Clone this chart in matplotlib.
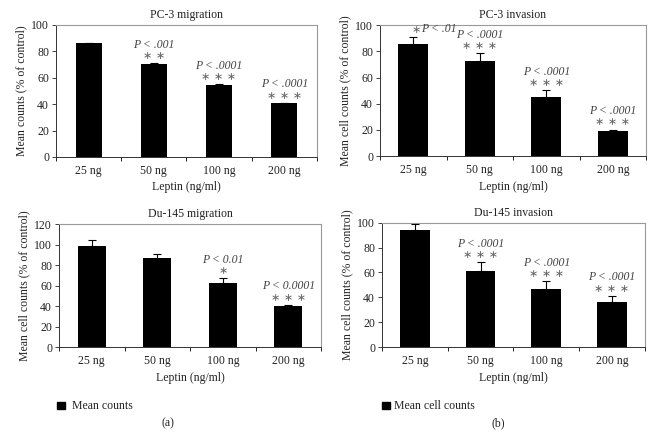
import numpy as np
import matplotlib
matplotlib.use("Agg")
import matplotlib.pyplot as plt
from matplotlib.patches import Rectangle

plt.rcParams['font.family'] = ['Liberation Serif', 'DejaVu Serif']

# data
doses = ['25 ng', '50 ng', '100 ng', '200 ng']

pc3_mig = [86, 70, 54.5, 40.5]
pc3_mig_err = [0.6, 1.0, 0.5, 0.5]
pc3_mig_p = [None, 'P < .001', 'P < .0001', 'P < .0001']
pc3_mig_star = [None, '∗ ∗', '∗ ∗ ∗', '∗ ∗ ∗']

pc3_inv = [86, 72.7, 45.5, 18.8]
pc3_inv_err = [5.0, 5.8, 4.8, 1.5]
pc3_inv_p = [None, 'P < .0001', 'P < .0001', 'P < .0001']
pc3_inv_star = [None, '∗ ∗ ∗', '∗ ∗ ∗', '∗ ∗ ∗']

du_mig = [98.8, 86.5, 63, 40.2]
du_mig_err = [5.3, 4.0, 4.3, 1.0]
du_mig_p = [None, None, 'P < 0.01', 'P < 0.0001']
du_mig_star = [None, None, '∗', '∗ ∗ ∗']

du_inv = [94.2, 61, 46.5, 36]
du_inv_err = [4.7, 7.1, 6.4, 5.1]
du_inv_p = [None, 'P < .0001', 'P < .0001', 'P < .0001']
du_inv_star = [None, '∗ ∗ ∗', '∗ ∗ ∗', '∗ ∗ ∗']

fig = plt.figure(figsize=(6.62, 4.36), dpi=100)
fs = 8.5


def panel(rect, vals, errs, ptxt, stars, title, ylabel, ymax, width):
    ax = fig.add_axes(rect)
    x = np.arange(len(vals))
    ax.bar(x, vals, width=width, color='black', zorder=2)
    ax.errorbar(x, vals, yerr=[np.zeros(len(errs)), errs], fmt='none',
                ecolor='black', elinewidth=0.8, capsize=3, capthick=0.8, zorder=3)
    ax.set_xlim(-0.5, len(vals) - 0.5)
    ax.set_ylim(0, ymax)
    ax.set_yticks(np.arange(0, ymax + 1, 20))
    ax.set_xticks(np.arange(-0.5, len(vals)))
    ax.set_xticklabels([])
    ax.set_xticks(x, minor=True)
    ax.set_xticklabels(doses, minor=True)
    ax.tick_params(axis='x', which='minor', length=0, pad=6, labelsize=fs, colors='#222222')
    ax.tick_params(axis='x', which='major', length=3, width=0.6, direction='out')
    ax.tick_params(axis='y', length=3, width=0.6, labelsize=fs, colors='#222222', pad=2)
    for s in ['left', 'bottom']:
        ax.spines[s].set_color('#333333')
        ax.spines[s].set_linewidth(0.7)
    for s in ['top', 'right']:
        ax.spines[s].set_color('#999999')
        ax.spines[s].set_linewidth(0.8)
    ax.set_title(title, fontsize=fs, color='#222222', pad=5)
    ax.set_ylabel(ylabel, fontsize=fs, color='#222222', labelpad=3)
    ax.set_xlabel('Leptin (ng/ml)', fontsize=fs, color='#222222', labelpad=3)
    for i in range(len(vals)):
        top = vals[i] + errs[i]
        if stars[i]:
            ax.annotate(stars[i], (x[i], top), xytext=(0, 1.5), textcoords='offset points',
                        ha='center', va='bottom', fontsize=fs - 0.5, color='#666666',
                        family=['DejaVu Sans'])
        if ptxt[i]:
            ax.annotate(ptxt[i], (x[i], top), xytext=(0, 9), textcoords='offset points',
                        ha='center', va='bottom', fontsize=fs, color='#444444',
                        style='italic')
    return ax


panel([0.0846, 0.640, 0.394, 0.303], pc3_mig, pc3_mig_err, pc3_mig_p, pc3_mig_star,
      'PC-3 migration', 'Mean counts (% of control)', 100, 0.40)
ax2 = panel([0.574, 0.642, 0.402, 0.300], pc3_inv, pc3_inv_err, pc3_inv_p, pc3_inv_star,
            'PC-3 invasion', 'Mean cell counts (% of control)', 100, 0.45)
ax2.annotate('∗', (0, pc3_inv[0] + pc3_inv_err[0]), xytext=(2, 1.5), textcoords='offset points',
             ha='center', va='bottom', fontsize=fs - 0.5, color='#666666', family=['DejaVu Sans'])
ax2.annotate('P < .01', (0, pc3_inv[0] + pc3_inv_err[0]), xytext=(5.5, 1.5), textcoords='offset points',
             ha='left', va='bottom', fontsize=fs, color='#444444', style='italic')
panel([0.0891, 0.2040, 0.396, 0.282], du_mig, du_mig_err, du_mig_p, du_mig_star,
      'Du-145 migration', 'Mean cell counts (% of control)', 120, 0.43)
panel([0.577, 0.2040, 0.397, 0.285], du_inv, du_inv_err, du_inv_p, du_inv_star,
      'Du-145 invasion', 'Mean cell counts (% of control)', 100, 0.45)

# legends and captions
fig.patches.append(Rectangle((57 / 662, 1 - 409 / 436), 8 / 662, 7 / 436,
                             transform=fig.transFigure, color='black'))
fig.text(72 / 662, 1 - 406 / 436, 'Mean counts', fontsize=fs, va='center', color='#222222')
fig.patches.append(Rectangle((382 / 662, 1 - 409 / 436), 8 / 662, 7 / 436,
                             transform=fig.transFigure, color='black'))
fig.text(394 / 662, 1 - 406 / 436, 'Mean cell counts', fontsize=fs, va='center', color='#222222')
fig.text(168 / 662, 1 - 423 / 436, '(a)', fontsize=fs, ha='center', va='center', color='#222222')
fig.text(498 / 662, 1 - 423 / 436, '(b)', fontsize=fs, ha='center', va='center', color='#222222')

fig.savefig('out.png', dpi=100)
